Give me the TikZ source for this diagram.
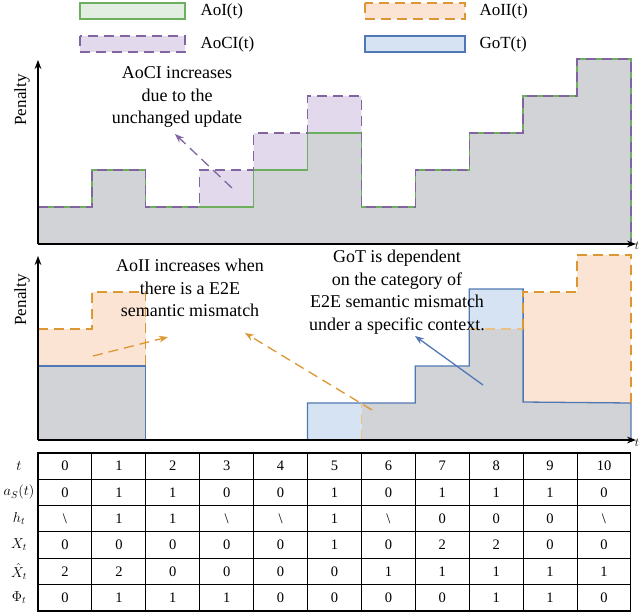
\documentclass[tikz,border=0pt]{standalone}
\usepackage{fontspec}
\setmainfont{Liberation Serif}
\usepackage{amsmath}
\usetikzlibrary{arrows.meta}
\definecolor{cgreen}{RGB}{110,175,95}\definecolor{fgreen}{RGB}{226,238,226}
\definecolor{corange}{RGB}{220,150,50}\definecolor{forange}{RGB}{252,228,212}
\definecolor{cpurple}{RGB}{130,100,160}\definecolor{fpurple}{RGB}{226,218,236}
\definecolor{cblue}{RGB}{80,120,180}\definecolor{fblue}{RGB}{214,227,242}
\definecolor{fgray}{RGB}{209,211,214}
\tikzset{
 thick/.style={line width=1.3pt},
 dsh/.style={dash pattern=on 10pt off 6pt},
 ax/.style={line width=1.3pt,-{Stealth[length=9pt]}},
 lbl/.style={font=\fontsize{17}{18}\selectfont,align=center},
 ann/.style={font=\fontsize{18}{22.5}\selectfont,align=center,inner sep=1pt},
 cell/.style={font=\fontsize{14.5}{14.5}\selectfont},
}
\begin{document}
\begin{tikzpicture}[x=1pt,y=-1pt]
\useasboundingbox (0,0) rectangle (640,613);
% legend
\draw[cgreen,fill=fgreen,thick] (80,3) rectangle (185,19); \node[lbl,anchor=west] (l1) at (197,11) {AoI(t)};
\draw[corange,fill=forange,thick,dsh] (365,3) rectangle (465,19); \node[lbl,anchor=west] (l2) at (476,11) {AoII(t)};
\draw[cpurple,fill=fpurple,thick,dsh] (80,36) rectangle (185,52); \node[lbl,anchor=west] (l3) at (197,44) {AoCI(t)};
\draw[cblue,fill=fblue,thick] (365,36) rectangle (465,52); \node[lbl,anchor=west] (l4) at (476,44) {GoT(t)};
% top plot
\fill[fpurple] (38,244)--(38,207)--(91.9,207)--(91.9,170)--(145.8,170)--(145.8,207)--(199.7,207)--(199.7,170)--(253.6,170)--(253.6,133)--(307.5,133)--(307.5,96)--(361.4,96)--(361.4,244)--cycle;
\fill[fgray] (38,244)--(38,207)--(91.9,207)--(91.9,170)--(145.8,170)--(145.8,207)--(253.6,207)--(253.6,170)--(307.5,170)--(307.5,133)--(361.4,133)--(361.4,207)--(415.3,207)--(415.3,170)--(469.2,170)--(469.2,133)--(523.1,133)--(523.1,96)--(577,96)--(577,59)--(630.9,59)--(630.9,244)--cycle;
\draw[cgreen,thick] (38,244)--(38,207)--(91.9,207)--(91.9,170)--(145.8,170)--(145.8,207)--(253.6,207)--(253.6,170)--(307.5,170)--(307.5,133)--(361.4,133)--(361.4,207)--(415.3,207)--(415.3,170)--(469.2,170)--(469.2,133)--(523.1,133)--(523.1,96)--(577,96)--(577,59)--(630.9,59)--(630.9,244);
\draw[cpurple,thick,dsh] (38,207)--(91.9,207)--(91.9,170)--(145.8,170)--(145.8,207)--(199.7,207)--(199.7,170)--(253.6,170)--(253.6,133)--(307.5,133)--(307.5,96)--(361.4,96)--(361.4,207)--(415.3,207)--(415.3,170)--(469.2,170)--(469.2,133)--(523.1,133)--(523.1,96)--(577,96)--(577,59)--(630.9,59)--(630.9,244);
\coordinate (o1) at (38,244);
\draw[ax] (o1) -- (38,60);
\draw[ax] (o1) -- (636,244);
\node[font=\fontsize{13}{13}\selectfont] (t1) at (637,246) {$t$};
\node[lbl,rotate=90] (p1) at (22,100) {Penalty};
\node[ann] (a1) at (177,97) {AoCI increases\\due to the\\unchanged update};
\coordinate (a1s) at (232,188);
\draw[cpurple,thick,dsh,-{Stealth[length=9pt]}] (a1s) -- (175,134);
% bottom plot
\fill[forange] (38,440)--(38,329)--(91.9,329)--(91.9,292)--(145.8,292)--(145.8,440)--cycle;
\fill[forange] (523.1,440)--(523.1,292)--(577,292)--(577,255)--(630.9,255)--(630.9,440)--cycle;
\fill[fblue] (307.5,440) rectangle (361.4,403);
\fill[fblue] (469.2,329) rectangle (523.1,289);
\fill[fgray] (38,440) rectangle (145.8,366);
\fill[fgray] (361.4,440)--(361.4,403)--(415.3,403)--(415.3,366)--(469.2,366)--(469.2,329)--(523.1,329)--(523.1,402)--(630.9,403)--(630.9,440)--cycle;
\draw[cblue,thick] (38,366)--(145.8,366)--(145.8,440);
\draw[cblue,thick] (307.5,440)--(307.5,403)--(415.3,403)--(415.3,366)--(469.2,366)--(469.2,289)--(523.1,289)--(523.1,402)--(630.9,403)--(630.9,440);
\draw[corange,thick,dsh] (38,329)--(91.9,329)--(91.9,292)--(145.8,292)--(145.8,366);
\draw[corange!60,thick,dsh] (361.4,440)--(361.4,403);
\draw[corange!60,thick,dsh] (469.2,329)--(523.1,329);
\draw[corange,thick,dsh] (523.1,329)--(523.1,292)--(577,292)--(577,255)--(630.9,255)--(630.9,403);
\coordinate (o2) at (38,440);
\draw[ax] (o2) -- (38,256);
\draw[ax] (o2) -- (636,440);
\node[font=\fontsize{13}{13}\selectfont] (t2) at (637,443) {$t$};
\node[lbl,rotate=90] (p2) at (22,300) {Penalty};
\node[ann] (a2) at (190,288) {AoII increases when\\there is a E2E\\semantic mismatch};
\node[ann] (a3) at (397,292) {GoT is dependent\\on the category of\\E2E semantic mismatch\\under a specific context.};
\coordinate (a2s) at (93,356); \coordinate (a2e) at (168,337);
\coordinate (a3s) at (372,410); \coordinate (a3e) at (245,333);
\coordinate (a4s) at (483,385); \coordinate (a4e) at (415,336);
\draw[corange,thick,dsh,-{Stealth[length=9pt]}] (a2s) -- (a2e);
\draw[corange,thick,dsh,-{Stealth[length=9pt]}] (a3s) -- (a3e);
\draw[cblue,thick,-{Stealth[length=9pt]}] (a4s) -- (a4e);
% table
\draw[line width=1.1pt] (38,453) rectangle (630.9,611);
\foreach \i in {1,...,10} \draw[line width=1pt] ({38+53.9*\i},453) -- ({38+53.9*\i},611);
\foreach \r in {1,...,5} \draw[line width=1pt] (38,{453+26.33*\r}) -- (630.9,{453+26.33*\r});
\foreach \lab [count=\r from 0] in {t,a_S(t),h_t,X_t,\hat{X}_t,\Phi_t}
  \node[cell,inner sep=0pt] (rl\r) at (19,{466+26.33*\r}) {$\lab$};
\foreach \row [count=\r from 0] in {
 {0,1,2,3,4,5,6,7,8,9,10},
 {0,1,1,0,0,1,0,1,1,1,0},
 {\textbackslash,1,1,\textbackslash,\textbackslash,1,\textbackslash,0,0,0,\textbackslash},
 {0,0,0,0,0,1,0,2,2,0,0},
 {2,2,0,0,0,0,1,1,1,1,1},
 {0,1,1,1,0,0,0,0,1,1,0}}
 \foreach \v [count=\c from 0] in \row
  \node[cell] (c\r-\c) at ({65+53.9*\c},{466+26.33*\r}) {\v};
\end{tikzpicture}
\end{document}
